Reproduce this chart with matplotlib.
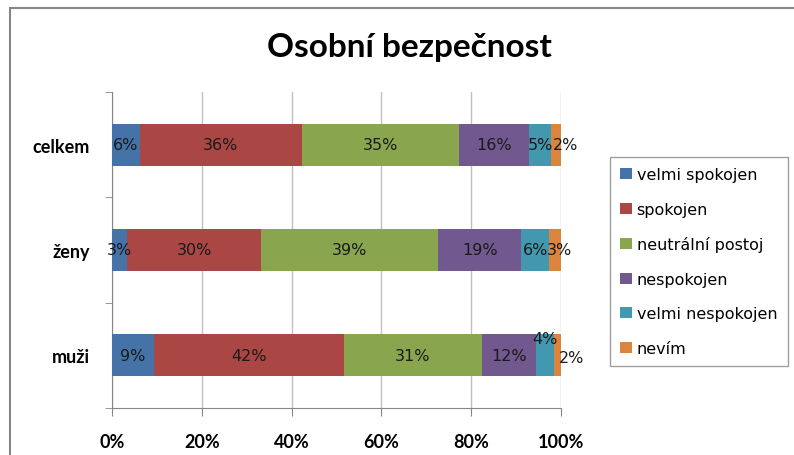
import numpy as np
import matplotlib.pyplot as plt
from matplotlib.patches import Rectangle

groups = ['muži', 'ženy', 'celkem']
series = ['velmi spokojen', 'spokojen', 'neutrální postoj', 'nespokojen',
          'velmi nespokojen', 'nevím']
# shares in % per group (muži, ženy, celkem)
velmi_spokojen = [9.3, 3.4, 6.2]
spokojen = [42.4, 29.8, 36.1]
neutralni = [30.6, 39.4, 35.0]
nespokojen = [12.2, 18.6, 15.6]
velmi_nespokojen = [3.9, 6.1, 4.9]
nevim = [1.6, 2.7, 2.2]
x_ticks = [0, 20, 40, 60, 80, 100]

values = [velmi_spokojen, spokojen, neutralni, nespokojen, velmi_nespokojen, nevim]
colors = ['#4572A7', '#AA4643', '#89A54E', '#71588F', '#4198AF', '#DB843D']

# label nudges in pixels (series index, group index) -> (dx, dy)
nudge = {(5, 2): (10, 0), (5, 1): (4, 0), (4, 0): (0, 17), (5, 0): (14, -2)}

fig = plt.figure(figsize=(7.94, 4.56), dpi=100)
ax = fig.add_axes([112 / 794, 1 - 409 / 456, 449 / 794, 316 / 456])

fig.patches.append(Rectangle((10 / 794, -0.05), 1.05, 1.05 - 9 / 456,
                             transform=fig.transFigure, fill=False,
                             edgecolor='#868686', lw=1.5, zorder=0))

y = np.arange(len(groups))
left = np.zeros(len(groups))
for i, (name, vals) in enumerate(zip(series, values)):
    vals = np.array(vals) / 100
    ax.barh(y, vals, left=left, height=0.4, color=colors[i], label=name, zorder=3)
    for j in range(len(groups)):
        cx = left[j] + vals[j] / 2
        dx, dy = nudge.get((i, j), (0, 0))
        ax.annotate(f'{round(vals[j] * 100):d}%', (cx, y[j]),
                    xytext=(dx * 0.72, dy * 0.72), textcoords='offset points',
                    ha='center', va='center', fontsize=11.5, color='#1a1a1a',
                    family='DejaVu Sans', zorder=4)
    left += vals

ax.set_xlim(0, 1)
ax.set_ylim(-0.5, 2.5)
ax.set_xticks(np.array(x_ticks) / 100)
ax.set_xticklabels([f'{t}%' for t in x_ticks], fontsize=13, fontweight='bold',
                   family='Lato')
ax.set_yticks(y)
ax.set_yticklabels(groups, fontsize=13, fontweight='bold', family='Lato')
ax.set_yticks([-0.5, 0.5, 1.5, 2.5], minor=True)
ax.tick_params(axis='y', which='major', length=0, pad=16)
ax.tick_params(axis='y', which='minor', length=5, color='#868686', direction='out')
ax.tick_params(axis='x', length=6, color='#868686', pad=12)
ax.grid(axis='x', color='#c0c0c0', lw=1, zorder=0)
for s in ['top', 'right']:
    ax.spines[s].set_visible(False)
for s in ['left', 'bottom']:
    ax.spines[s].set_color('#868686')

fig.text(409 / 794, 1 - 47 / 456, 'Osobní bezpečnost', ha='center', va='center',
         fontsize=24, fontweight='bold', family='Lato')

leg = fig.legend(loc='upper left', bbox_to_anchor=(610 / 794, 1 - 158 / 456),
                 frameon=True, fancybox=False, fontsize=11.5, labelspacing=1.22,
                 handlelength=0.72, handleheight=0.72, handletextpad=0.3,
                 borderpad=0.65, borderaxespad=0)
leg.get_frame().set_edgecolor('#868686')
leg.get_frame().set_linewidth(1)
for t in leg.get_texts():
    t.set_family('DejaVu Sans')

fig.savefig('out.png', dpi=100)
